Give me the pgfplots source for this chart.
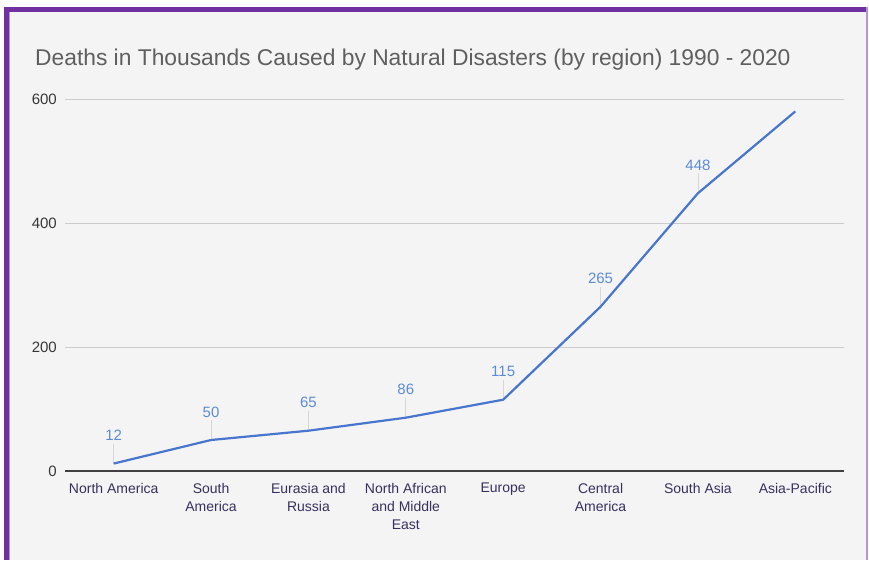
\documentclass[border=0pt]{standalone}
\usepackage{pgfplots}
\pgfplotsset{compat=1.18}
\usepackage{fontspec}
\setmainfont{Liberation Sans}
\definecolor{bg}{RGB}{244,244,244}
\definecolor{bord}{RGB}{112,48,160}
\definecolor{bordlight}{RGB}{185,145,215}
\definecolor{titlec}{RGB}{95,95,95}
\definecolor{xlab}{RGB}{55,48,95}
\definecolor{ylab}{RGB}{55,55,55}
\definecolor{linec}{RGB}{72,118,206}
\definecolor{datalab}{RGB}{92,140,214}
\definecolor{gridc}{RGB}{204,204,204}
\definecolor{leader}{RGB}{215,215,215}
\begin{document}
\begin{tikzpicture}[x=1pt,y=1pt]
\useasboundingbox (0,0) rectangle (869,560);
\fill[white] (0,0) rectangle (869,560);
\fill[bg] (9,0) rectangle (866,548);
\fill[bord] (3.5,0) rectangle (9,548);
\fill[bord] (3.5,548) rectangle (867,553);
\fill[bordlight] (9,0) rectangle (10,548);
\fill[bordlight] (866,0) rectangle (868,553);
\node[anchor=base west, inner sep=0pt, text=titlec, font=\fontsize{22.8}{27}\selectfont] at (35,494) {Deaths in Thousands Caused by Natural Disasters (by region) 1990 - 2020};
\begin{axis}[
  at={(65pt,89pt)}, anchor=south west,
  scale only axis, width=779pt, height=372pt,
  xmin=-0.5, xmax=7.5, ymin=0, ymax=600,
  clip=false,
  axis line style={draw=none},
  xtick={0,...,7},
  xticklabels={North America,South\\America,Eurasia and\\Russia,North African\\and Middle\\East,Europe,Central\\America,South Asia,Asia-Pacific},
  x tick label style={align=center, text=xlab, font=\fontsize{14}{18}\selectfont, anchor=north, inner sep=0pt, yshift=-12pt},
  ytick={0,200,400,600},
  y tick label style={text=ylab, font=\fontsize{15}{17}\selectfont, anchor=east, inner sep=0pt, xshift=-8pt},
  /pgf/number format/assume math mode=true,
  major tick length=0pt,
  tick style={draw=none},
  ymajorgrids, grid style={gridc, line width=1pt},
  extra y ticks={0}, extra y tick labels={},
  extra y tick style={grid style={draw=black!75, line width=1.3pt}},
]
\addplot[draw=none, mark=none,
  error bars/.cd, y dir=plus, y fixed=32,
  error mark=none, error bar style={leader, line width=0.8pt}]
  coordinates {(0,12) (1,50) (2,65) (3,86) (4,115) (5,265) (6,448)};
\addplot[draw=none, mark=none,
  nodes near coords,
  every node near coord/.append style={text=datalab, font=\fontsize{15}{17}\selectfont, anchor=center, yshift=28pt, inner sep=0pt}]
  coordinates {(0,12) (1,50) (2,65) (3,86) (4,115) (5,265) (6,448)};
\addplot[linec, line width=2.2pt, mark=none, line join=round]
  coordinates {(0,12) (1,50) (2,65) (3,86) (4,115) (5,265) (6,448) (7,580)};
\end{axis}
\end{tikzpicture}
\end{document}
